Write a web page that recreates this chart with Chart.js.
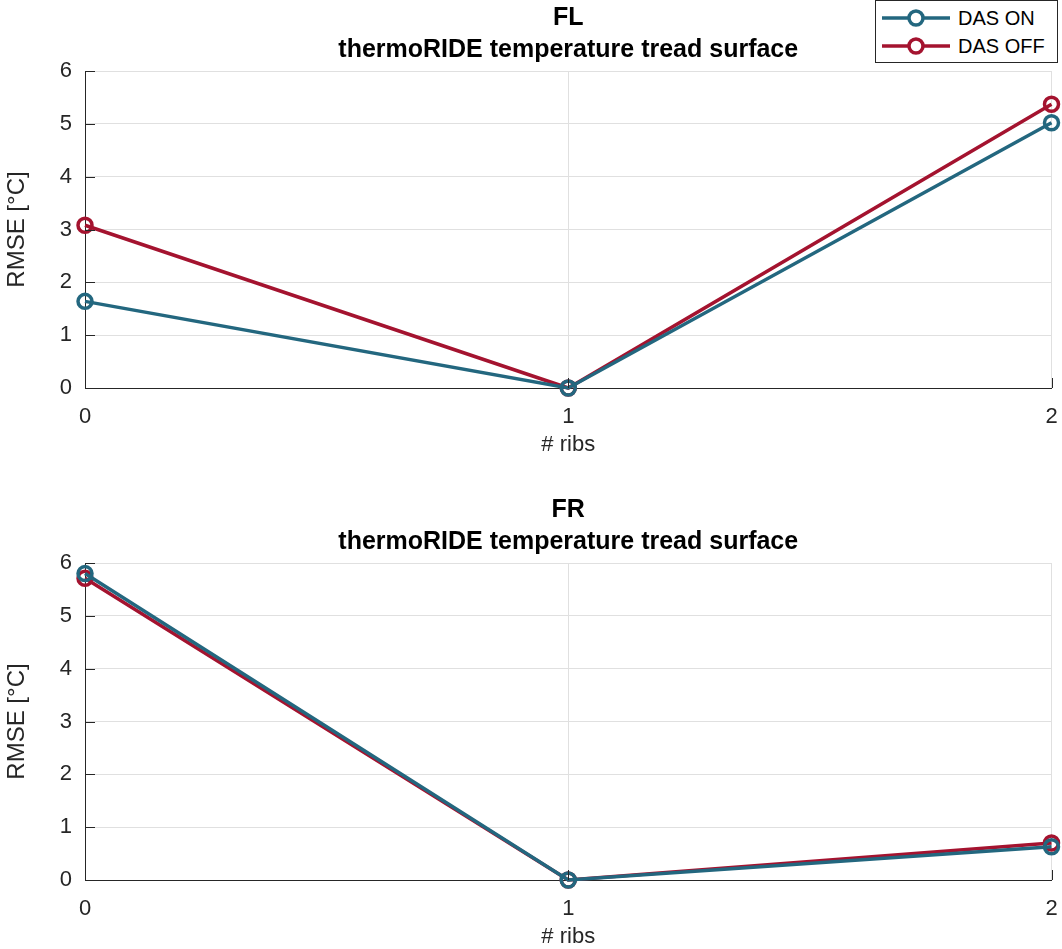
<!DOCTYPE html>
<html>
<head>
<meta charset="utf-8">
<script src="https://cdn.jsdelivr.net/npm/chart.js@4.4.1/dist/chart.umd.min.js"></script>
<style>
  body { margin: 0; background: #fff; }
  #wrap { position: relative; width: 1062px; height: 949px; overflow: hidden; }
  .box { position: absolute; left: 0; width: 1062px; height: 457px; }
  #legend {
    position: absolute; left: 875px; top: 0; width: 181px; height: 61px;
    background: #fff; border: 1px solid #262626;
    font-family: "Liberation Sans", Arial, sans-serif; font-size: 20px; color: #000;
  }
  .row { position: absolute; left: 0; height: 28px; width: 181px; }
  .row canvas { position: absolute; left: 4px; top: 0; }
  .row span { position: absolute; left: 82px; top: 3px; }
</style>
</head>
<body>
<div id="wrap">
  <div class="box" style="top:0px"><canvas id="chartFL"></canvas></div>
  <div class="box" style="top:492px"><canvas id="chartFR"></canvas></div>
  <div id="legend">
    <div class="row" style="top:3px"><canvas id="lg0" width="72" height="28"></canvas><span>DAS ON</span></div>
    <div class="row" style="top:31px"><canvas id="lg1" width="72" height="28"></canvas><span>DAS OFF</span></div>
  </div>
</div>
<script>
var ribs = [0, 1, 2];
var flDasOn  = [1.64, 0.00, 5.02];
var flDasOff = [3.08, 0.00, 5.37];
var frDasOn  = [5.80, 0.00, 0.63];
var frDasOff = [5.71, 0.00, 0.70];
var yTicks = [0, 1, 2, 3, 4, 5, 6];
var seriesNames = ['DAS ON', 'DAS OFF'];

var blue = '#23677f';
var red = '#a4132f';
var axisColor = '#262626';
var font = '"Liberation Sans", Arial, Helvetica, sans-serif';

function points(vals){
    return ribs.map(function(r, i){ return { x: r, y: vals[i] }; });
}

function line(label, vals, color){
    return {
        label: label,
        data: points(vals),
        borderColor: color,
        backgroundColor: 'rgba(0,0,0,0)',
        borderWidth: 3.5,
        pointRadius: 7,
        pointHoverRadius: 7,
        pointBorderWidth: 3.5,
        pointBackgroundColor: 'rgba(0,0,0,0)',
        pointBorderColor: color,
        tension: 0,
        clip: false
    };
}

// MATLAB style ticks pointing into the plot
var innerTicks = {
    id: 'innerTicks',
    afterDatasetsDraw: function(chart){
        var c = chart.ctx, a = chart.chartArea;
        var xs = chart.scales.x, ys = chart.scales.y;
        c.save();
        c.strokeStyle = axisColor;
        c.lineWidth = 1;
        yTicks.forEach(function(v){
            var y = Math.round(ys.getPixelForValue(v)) + 0.5;
            c.beginPath(); c.moveTo(a.left, y); c.lineTo(a.left + 10, y); c.stroke();
        });
        ribs.forEach(function(v){
            var x = Math.round(xs.getPixelForValue(v)) + 0.5;
            c.beginPath(); c.moveTo(x, a.bottom); c.lineTo(x, a.bottom - 10); c.stroke();
        });
        c.restore();
    }
};

function setChart(id, title, on, off){
    var ctx = document.getElementById(id);
    return new Chart(ctx, {
        type: 'line',
        data: {
            datasets: [ line(seriesNames[0], on, blue), line(seriesNames[1], off, red) ]
        },
        options: {
            responsive: true,
            maintainAspectRatio: false,
            animation: false,
            layout: { padding: { left: 0, right: 6, top: 0, bottom: 0 } },
            plugins: {
                legend: { display: false },
                tooltip: { enabled: false },
                title: {
                    display: true,
                    fullSize: false,
                    text: [title, 'thermoRIDE temperature tread surface'],
                    color: '#000',
                    font: { family: font, size: 25, weight: 'bold', lineHeight: 1.28 },
                    padding: { top: 2, bottom: 5 }
                }
            },
            scales: {
                x: {
                    type: 'linear',
                    min: 0, max: 2,
                    afterFit: function(s){ s.height = 69; s.paddingLeft = 0; s.paddingRight = 0; },
                    afterBuildTicks: function(s){ s.ticks = ribs.map(function(v){ return { value: v }; }); },
                    ticks: { color: axisColor, font: { family: font, size: 22 }, padding: 16, maxRotation: 0 },
                    grid: { color: '#e0e0e0', drawTicks: false, lineWidth: 1 },
                    border: { display: true, color: axisColor, width: 1 },
                    title: {
                        display: true, text: '# ribs', color: axisColor,
                        font: { family: font, size: 22, lineHeight: 1.0 },
                        padding: { top: 0, bottom: 1 }
                    }
                },
                y: {
                    min: 0, max: 6,
                    afterFit: function(s){ s.width = 85; s.paddingTop = 0; s.paddingBottom = 0; },
                    afterBuildTicks: function(s){ s.ticks = yTicks.map(function(v){ return { value: v }; }); },
                    ticks: { color: axisColor, font: { family: font, size: 22 }, padding: 13 },
                    grid: { color: '#e0e0e0', drawTicks: false, lineWidth: 1 },
                    border: { display: true, color: axisColor, width: 1 },
                    title: {
                        display: true, text: 'RMSE [°C]', color: axisColor,
                        font: { family: font, size: 24, lineHeight: 1.2 },
                        padding: { top: 3, bottom: 0 }
                    }
                }
            }
        },
        plugins: [innerTicks]
    });
}

function legendIcon(id, color){
    var c = document.getElementById(id).getContext('2d');
    c.strokeStyle = color;
    c.lineWidth = 3.5;
    c.beginPath(); c.moveTo(2, 14); c.lineTo(70, 14); c.stroke();
    c.fillStyle = '#fff';
    c.beginPath(); c.arc(36, 14, 7, 0, Math.PI * 2); c.fill(); c.stroke();
}

setChart('chartFL', 'FL', flDasOn, flDasOff);
setChart('chartFR', 'FR', frDasOn, frDasOff);
legendIcon('lg0', blue);
legendIcon('lg1', red);
</script>
</body>
</html>
